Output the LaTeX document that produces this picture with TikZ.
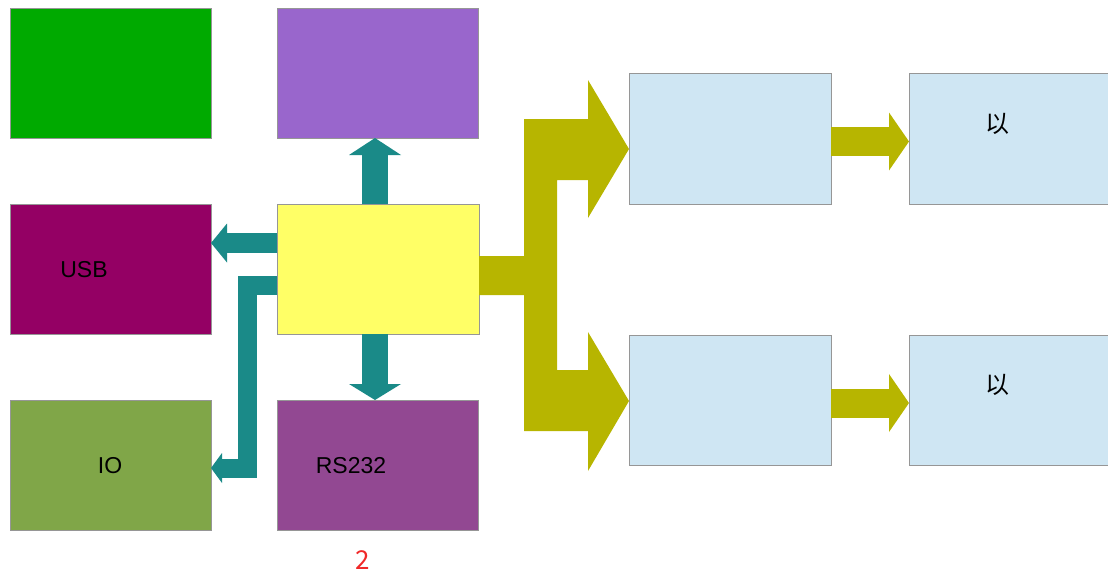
\documentclass[tikz,border=0pt]{standalone}
\usepackage{fontspec}
\setmainfont{Liberation Sans}
\newfontfamily\cjk{Noto Sans CJK SC}
\usetikzlibrary{arrows.meta,calc}
\definecolor{cgreen}{RGB}{0,170,0}
\definecolor{cpurple}{RGB}{153,102,204}
\definecolor{cusb}{RGB}{148,0,100}
\definecolor{cyellow}{RGB}{255,255,102}
\definecolor{cio}{RGB}{128,166,72}
\definecolor{crs}{RGB}{146,72,146}
\definecolor{cblue}{RGB}{207,230,243}
\definecolor{cteal}{RGB}{26,138,136}
\definecolor{colive}{RGB}{183,181,0}
\definecolor{cedge}{RGB}{150,150,150}
\definecolor{cred}{RGB}{240,40,40}
\tikzset{
  box/.style={draw=cedge, line width=0.8pt, inner sep=0pt, outer sep=0pt,
    minimum width=201pt, minimum height=130pt},
  lbl/.style={inner sep=0pt, font=\fontsize{23}{28}\selectfont},
  cjklbl/.style={inner sep=0pt, font=\cjk\fontsize{24}{28}\selectfont},
  tealarrow/.style={draw=cteal, line join=miter},
  olivearrow/.style={draw=colive, line join=miter},
}
\begin{document}
\begin{tikzpicture}[x=1pt,y=-1pt]
\useasboundingbox (0,0) rectangle (1108,581);
% boxes
\node[box, fill=cgreen] (green) at (110.5,73) {};
\node[box, fill=cpurple] (purple) at (377.5,73) {};
\node[box, fill=cusb] (usb) at (110.5,269) {};
\node[box, fill=cyellow, minimum width=202pt] (core) at (378,269) {};
\node[box, fill=cio] (io) at (110.5,465) {};
\node[box, fill=crs] (rs) at (377.5,465) {};
\node[box, fill=cblue, minimum width=202pt, minimum height=131pt] (b1) at (730,138.5) {};
\node[box, fill=cblue, minimum width=202pt, minimum height=131pt] (b2) at (1010,138.5) {};
\node[box, fill=cblue, minimum width=202pt] (b3) at (730,400) {};
\node[box, fill=cblue, minimum width=202pt] (b4) at (1010,400) {};
% labels
\node[lbl] (usbt) at (84,270) {USB};
\node[lbl] (iot) at (110,466) {IO};
\node[lbl] (rst) at (351,466) {RS232};
\node[cjklbl] (b2t) at (997,124) {以};
\node[cjklbl] (b4t) at (997,385) {以};
\node[inner sep=0pt, font=\cjk\fontsize{26}{30}\selectfont, text=cred] (num) at (363,560) {2};
% teal arrows
\draw[tealarrow, line width=26pt, -{Triangle[width=52pt,length=17pt,line width=0pt]}]
  ($(core.north)+(-3,0)$) -- ($(purple.south)+(-2.5,0)$);
\draw[tealarrow, line width=26pt, -{Triangle[width=52pt,length=16pt,line width=0pt]}]
  ($(core.south)+(-3,0)$) -- ($(rs.north)+(-2.5,0)$);
\draw[tealarrow, line width=20pt, -{Triangle[width=39pt,length=16pt,line width=0pt]}]
  ($(core.west)+(0,-26)$) -- ($(usb.east)+(0,-26)$);
\draw[tealarrow, line width=19pt, -{Triangle[width=30pt,length=11pt,line width=0pt]}]
  ($(core.west)+(0,16)$) -- (247.5,285) -- (247.5,468) -- ($(io.east)+(0,3)$);
% olive split arrow
\fill[colive] (core.east |- 0,256) -- (524,256) -- (524,119) -- (588,119) -- (588,80)
  -- ($(b1.west)+(0,10.5)$) -- (588,218) -- (588,180) -- (557,180) -- (557,370)
  -- (588,370) -- (588,332) -- ($(b3.west)+(0,1)$) -- (588,471) -- (588,431)
  -- (524,431) -- (524,295) -- (core.east |- 0,295) -- cycle;
% small olive arrows
\draw[olivearrow, line width=29pt, -{Triangle[width=58pt,length=20pt,line width=0pt]}]
  ($(b1.east)+(0,3)$) -- ($(b2.west)+(0,3)$);
\draw[olivearrow, line width=29pt, -{Triangle[width=58pt,length=20pt,line width=0pt]}]
  ($(b3.east)+(0,3)$) -- ($(b4.west)+(0,3)$);
\end{tikzpicture}
\end{document}
